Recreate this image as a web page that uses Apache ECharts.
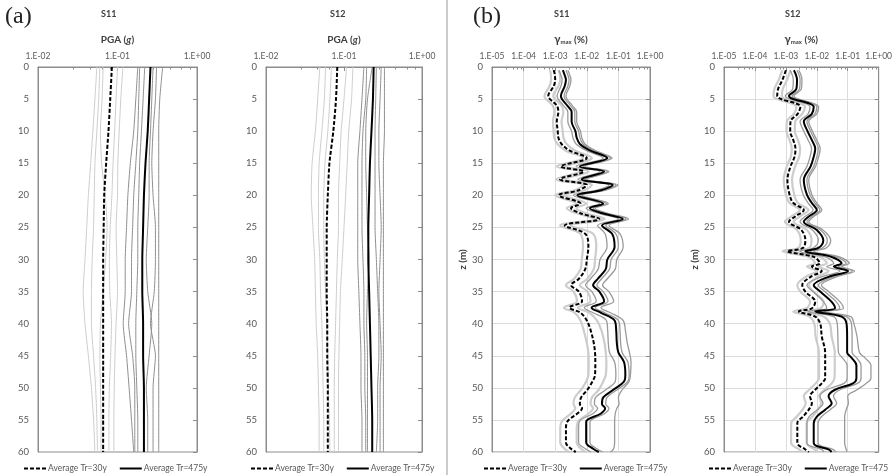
<!DOCTYPE html>
<html>
<head>
<meta charset="utf-8">
<title>PGA and gamma max profiles</title>
<script src="https://cdn.jsdelivr.net/npm/echarts@6/dist/echarts.min.js"></script>
</head>
<body style="margin:0;background:#fff">
<div id="chart" style="width:895px;height:475px"></div>
<script type="text/javascript">
// depths (m) for panel (a)
var depthA = [0, 5, 10, 15, 20, 25, 30, 35, 40, 45, 50, 55, 60];

// (a) S11 - PGA (g)
var pgaS11Avg30 = [0.085, 0.081, 0.077, 0.072, 0.068, 0.067, 0.066, 0.066, 0.066, 0.066, 0.066, 0.066, 0.066];
var pgaS11Avg475 = [0.26, 0.25, 0.24, 0.225, 0.215, 0.21, 0.205, 0.205, 0.21, 0.21, 0.215, 0.215, 0.215];
var pgaS11Rec30 = [
  [0.055, 0.052, 0.049, 0.046, 0.043, 0.041, 0.039, 0.037, 0.039, 0.043, 0.047, 0.050, 0.052],
  [0.060, 0.058, 0.055, 0.052, 0.051, 0.050, 0.048, 0.047, 0.047, 0.050, 0.053, 0.055, 0.056],
  [0.066, 0.064, 0.061, 0.063, 0.070, 0.074, 0.071, 0.066, 0.061, 0.060, 0.061, 0.062, 0.062],
  [0.100, 0.096, 0.092, 0.088, 0.085, 0.081, 0.079, 0.080, 0.084, 0.082, 0.079, 0.078, 0.078],
  [0.117, 0.110, 0.105, 0.101, 0.100, 0.096, 0.098, 0.100, 0.096, 0.093, 0.091, 0.090, 0.090]
];
var pgaS11Rec475 = [
  [0.18, 0.17, 0.16, 0.145, 0.135, 0.13, 0.125, 0.125, 0.118, 0.13, 0.14, 0.15, 0.16],
  [0.19, 0.185, 0.18, 0.17, 0.16, 0.155, 0.15, 0.15, 0.138, 0.155, 0.165, 0.165, 0.165],
  [0.22, 0.21, 0.20, 0.19, 0.185, 0.18, 0.18, 0.175, 0.17, 0.17, 0.175, 0.18, 0.18],
  [0.28, 0.27, 0.26, 0.25, 0.25, 0.24, 0.23, 0.24, 0.27, 0.25, 0.23, 0.24, 0.24],
  [0.31, 0.30, 0.28, 0.27, 0.28, 0.30, 0.30, 0.29, 0.26, 0.30, 0.28, 0.28, 0.28],
  [0.37, 0.34, 0.33, 0.33, 0.33, 0.33, 0.33, 0.33, 0.33, 0.33, 0.33, 0.33, 0.33]
];

// (a) S12 - PGA (g)
var pgaS12Avg30 = [0.082, 0.079, 0.073, 0.065, 0.062, 0.060, 0.060, 0.060, 0.061, 0.061, 0.062, 0.062, 0.062];
var pgaS12Avg475 = [0.24, 0.235, 0.225, 0.215, 0.21, 0.205, 0.205, 0.21, 0.215, 0.22, 0.225, 0.23, 0.23];
var pgaS12Rec30 = [
  [0.049, 0.046, 0.043, 0.039, 0.038, 0.040, 0.042, 0.043, 0.044, 0.046, 0.047, 0.048, 0.048],
  [0.058, 0.056, 0.052, 0.048, 0.047, 0.047, 0.049, 0.050, 0.052, 0.053, 0.054, 0.055, 0.055],
  [0.069, 0.066, 0.062, 0.057, 0.055, 0.055, 0.056, 0.058, 0.060, 0.062, 0.063, 0.065, 0.066],
  [0.108, 0.100, 0.092, 0.088, 0.085, 0.085, 0.082, 0.080, 0.078, 0.076, 0.075, 0.075, 0.075],
  [0.130, 0.125, 0.115, 0.110, 0.105, 0.100, 0.095, 0.090, 0.088, 0.086, 0.085, 0.085, 0.085]
];
var pgaS12Rec475 = [
  [0.18, 0.17, 0.16, 0.15, 0.15, 0.15, 0.15, 0.155, 0.16, 0.165, 0.165, 0.17, 0.17],
  [0.195, 0.19, 0.175, 0.17, 0.17, 0.17, 0.175, 0.18, 0.18, 0.185, 0.185, 0.19, 0.19],
  [0.23, 0.20, 0.19, 0.19, 0.195, 0.20, 0.21, 0.20, 0.195, 0.20, 0.20, 0.20, 0.20],
  [0.26, 0.255, 0.25, 0.25, 0.25, 0.25, 0.26, 0.27, 0.28, 0.28, 0.27, 0.27, 0.26],
  [0.30, 0.29, 0.28, 0.28, 0.29, 0.30, 0.29, 0.28, 0.29, 0.30, 0.29, 0.29, 0.29],
  [0.33, 0.33, 0.33, 0.32, 0.32, 0.32, 0.32, 0.32, 0.32, 0.32, 0.32, 0.32, 0.32]
];

// (b) gamma max (%) (log10 of value)
var depthB11 = [0.5, 1, 2, 3, 4.5, 6, 7, 8.5, 10, 11, 12, 13, 14.2, 15.5, 16.3, 17.5, 18.4, 19.2, 20, 21.3,
  22, 22.8, 23.7, 24.7, 26, 28, 30, 31.5, 33, 34, 35, 36.5, 37.5, 38.3, 39.5, 41, 43, 44.5, 46, 48,
  49, 50.3, 51.5, 52.5, 53.2, 54, 55.3, 56.5, 58.5, 59.5, 60];
var gmaxS11Avg30 = [-3.05, -3.02, -3.00, -3.05, -3.22, -2.95, -2.90, -2.95, -2.92, -2.90,
  -2.80, -2.55, -2.00, -2.82, -2.10, -2.85, -2.00, -2.25, -2.88, -2.20,
  -2.50, -2.20, -1.60, -2.70, -2.05, -1.95, -2.00, -2.05, -2.25, -2.50,
  -2.25, -2.15, -2.55, -2.20, -2.00, -1.88, -1.78, -1.74, -1.73, -1.74,
  -1.82, -1.98, -2.18, -2.22, -2.15, -2.30, -2.62, -2.66, -2.66, -2.50, -2.35];
var gmaxS11Avg475 = [-2.76, -2.72, -2.66, -2.70, -2.82, -2.62, -2.48, -2.48, -2.36, -2.32,
  -2.22, -1.90, -1.35, -2.22, -1.45, -2.16, -1.18, -1.55, -2.30, -1.48,
  -1.90, -1.50, -0.86, -1.52, -1.20, -1.12, -1.35, -1.40, -1.65, -1.80,
  -1.60, -1.45, -1.85, -1.55, -1.12, -1.07, -1.05, -1.00, -0.82, -0.78,
  -0.82, -1.16, -1.48, -1.52, -1.42, -1.55, -2.02, -2.02, -2.02, -1.80, -1.62];
var gmaxS11Rec30 = [
  [-3.17, -3.14, -3.13, -3.18, -3.34, -3.08, -3.03, -3.07, -3.05, -3.03,
   -2.93, -2.68, -2.12, -2.95, -2.22, -2.98, -2.12, -2.38, -3.00, -2.33,
   -2.63, -2.32, -1.74, -2.85, -2.20, -2.12, -2.16, -2.20, -2.40, -2.66,
   -2.42, -2.31, -2.72, -2.38, -2.20, -2.10, -2.00, -1.95, -1.94, -1.95,
   -2.02, -2.18, -2.38, -2.42, -2.36, -2.50, -2.80, -2.84, -2.84, -2.70, -2.55],
  [-2.90, -2.86, -2.84, -2.90, -3.06, -2.80, -2.74, -2.80, -2.76, -2.74,
   -2.64, -2.38, -1.84, -2.66, -1.94, -2.68, -1.84, -2.08, -2.72, -2.02,
   -2.33, -2.03, -1.44, -2.50, -1.80, -1.70, -1.74, -1.78, -1.98, -2.22,
   -1.98, -1.88, -2.28, -1.92, -1.68, -1.54, -1.44, -1.40, -1.38, -1.40,
   -1.48, -1.62, -1.84, -1.88, -1.80, -1.94, -2.28, -2.32, -2.32, -2.18, -2.02]
];
var gmaxS11Rec475 = [
  [-2.88, -2.84, -2.78, -2.82, -2.94, -2.74, -2.60, -2.60, -2.48, -2.44,
   -2.34, -2.02, -1.48, -2.34, -1.58, -2.28, -1.30, -1.68, -2.42, -1.60,
   -2.02, -1.62, -1.00, -1.66, -1.42, -1.36, -1.58, -1.64, -1.88, -2.04,
   -1.84, -1.70, -2.08, -1.80, -1.38, -1.34, -1.32, -1.28, -1.12, -1.08,
   -1.10, -1.40, -1.72, -1.76, -1.66, -1.80, -2.24, -2.26, -2.26, -2.04, -1.86],
  [-2.66, -2.62, -2.56, -2.60, -2.72, -2.52, -2.38, -2.38, -2.26, -2.22,
   -2.12, -1.80, -1.25, -2.12, -1.35, -2.06, -1.08, -1.45, -2.20, -1.38,
   -1.80, -1.40, -0.76, -1.40, -1.08, -1.00, -1.23, -1.28, -1.53, -1.68,
   -1.48, -1.33, -1.73, -1.43, -1.00, -0.95, -0.93, -0.88, -0.70, -0.66,
   -0.70, -1.04, -1.36, -1.40, -1.30, -1.43, -1.90, -1.90, -1.90, -1.68, -1.50],
  [-2.60, -2.56, -2.50, -2.54, -2.66, -2.46, -2.32, -2.32, -2.20, -2.16,
   -2.06, -1.74, -1.20, -2.06, -1.30, -2.00, -1.02, -1.40, -2.14, -1.32,
   -1.74, -1.34, -0.68, -1.30, -0.95, -0.85, -1.05, -1.10, -1.35, -1.50,
   -1.30, -1.15, -1.55, -1.25, -0.85, -0.78, -0.72, -0.65, -0.60, -0.62,
   -0.66, -0.88, -1.00, -0.98, -1.05, -1.10, -1.12, -1.12, -1.12, -1.15, -1.25]
];

var depthB12 = [0.5, 2, 3.4, 4.5, 6.2, 7.3, 8.5, 10, 11.4, 12.7, 14, 15.5, 17.6, 19.9, 21.2, 22.3, 23.3, 24.1,
  25.4, 27, 28.2, 28.7, 29.6, 30.6, 31.1, 31.8, 32.7, 34, 35, 36.6, 37.6, 38.1, 38.9, 40, 42, 44.5,
  45.3, 46.5, 48.5, 49.3, 50.3, 51.3, 52.4, 53.4, 54.5, 55.5, 58.6, 59.6, 60];
var gmaxS12Avg30 = [-3.00, -3.11, -3.25, -3.28, -2.53, -2.62, -2.85, -2.86, -2.76, -2.69,
  -2.72, -2.85, -2.95, -2.88, -2.76, -2.42, -2.70, -2.90, -2.50, -2.37,
  -2.45, -2.95, -2.10, -1.90, -2.16, -1.84, -2.20, -2.47, -2.37, -2.05,
  -2.16, -2.58, -2.05, -1.89, -1.84, -1.73, -1.73, -1.73, -1.73, -1.84,
  -2.05, -2.22, -2.16, -2.26, -2.45, -2.63, -2.63, -2.37, -2.26];
var gmaxS12Avg475 = [-2.74, -2.64, -2.66, -2.90, -2.10, -2.16, -2.42, -2.30, -2.16, -2.05,
  -2.10, -2.20, -2.42, -2.32, -2.16, -2.00, -2.26, -2.42, -2.00, -1.79,
  -1.95, -2.37, -1.52, -1.20, -1.45, -0.99, -1.62, -2.10, -1.89, -1.52,
  -1.41, -2.05, -1.20, -1.04, -1.02, -1.02, -0.88, -0.72, -0.72, -0.83,
  -1.41, -1.62, -1.52, -1.73, -2.00, -2.10, -2.10, -1.62, -1.52];
var gmaxS12Rec30 = [
  [-3.12, -3.23, -3.37, -3.40, -2.66, -2.74, -2.97, -2.98, -2.88, -2.81,
   -2.84, -2.97, -3.07, -3.00, -2.88, -2.55, -2.83, -3.03, -2.64, -2.52,
   -2.60, -3.10, -2.26, -2.06, -2.32, -2.00, -2.36, -2.63, -2.53, -2.22,
   -2.34, -2.76, -2.24, -2.08, -2.04, -1.93, -1.93, -1.93, -1.93, -2.04,
   -2.25, -2.42, -2.36, -2.46, -2.65, -2.83, -2.83, -2.57, -2.46],
  [-2.85, -2.96, -3.10, -3.13, -2.38, -2.47, -2.70, -2.71, -2.61, -2.54,
   -2.57, -2.70, -2.80, -2.73, -2.61, -2.27, -2.55, -2.75, -2.32, -2.17,
   -2.25, -2.78, -1.88, -1.68, -1.94, -1.62, -1.98, -2.25, -2.12, -1.78,
   -1.88, -2.35, -1.78, -1.58, -1.52, -1.42, -1.42, -1.42, -1.43, -1.52,
   -1.75, -1.92, -1.86, -1.96, -2.15, -2.33, -2.33, -2.07, -1.96]
];
var gmaxS12Rec475 = [
  [-2.86, -2.76, -2.78, -3.02, -2.22, -2.28, -2.54, -2.42, -2.28, -2.17,
   -2.22, -2.32, -2.54, -2.44, -2.28, -2.12, -2.38, -2.54, -2.14, -1.95,
   -2.12, -2.55, -1.72, -1.45, -1.68, -1.25, -1.85, -2.32, -2.12, -1.78,
   -1.68, -2.28, -1.45, -1.34, -1.32, -1.30, -1.18, -1.02, -1.02, -1.12,
   -1.68, -1.90, -1.80, -1.98, -2.25, -2.32, -2.32, -1.85, -1.76],
  [-2.64, -2.54, -2.56, -2.80, -2.00, -2.06, -2.32, -2.20, -2.06, -1.95,
   -2.00, -2.10, -2.32, -2.22, -2.06, -1.90, -2.16, -2.32, -1.88, -1.66,
   -1.82, -2.22, -1.38, -1.05, -1.30, -0.85, -1.48, -1.95, -1.74, -1.37,
   -1.26, -1.90, -1.05, -0.88, -0.86, -0.86, -0.72, -0.57, -0.57, -0.68,
   -1.25, -1.46, -1.36, -1.57, -1.85, -1.96, -1.96, -1.48, -1.38],
  [-2.58, -2.48, -2.50, -2.74, -1.94, -2.00, -2.26, -2.14, -2.00, -1.89,
   -1.94, -2.04, -2.26, -2.16, -2.00, -1.84, -2.10, -2.26, -1.80, -1.55,
   -1.70, -2.10, -1.27, -0.95, -1.20, -0.78, -1.37, -1.85, -1.62, -1.25,
   -1.14, -1.75, -0.90, -0.80, -0.70, -0.62, -0.45, -0.25, -0.25, -0.40,
   -0.70, -1.00, -0.98, -1.05, -1.10, -1.10, -1.10, -1.05, -1.02]
];

var txt = '#595959';
var frame = '#8c8c8c';
var fontName = 'Lato';

// grids: two PGA panels, two gamma max panels
var grids = [
  {left: 38, top: 67, width: 159, height: 385},
  {left: 266, top: 67, width: 156, height: 385},
  {left: 492, top: 67, width: 158, height: 385},
  {left: 724, top: 67, width: 157, height: 385}
];

function expLabel(v) {
  var e = Math.round(Math.log10(v));
  var a = Math.abs(e);
  return '1.E' + (e < 0 ? '-' : '+') + (a < 10 ? '0' : '') + a;
}

var xAxes = [], yAxes = [];
grids.forEach(function (g, i) {
  g.show = true;
  g.borderColor = frame;
  g.borderWidth = 1;
  var isB = i >= 2;
  xAxes.push({
    type: 'log', logBase: 10, gridIndex: i, position: 'top',
    min: isB ? 1e-5 : 0.01, max: 1,
    name: isB ? '{g|γ}{s|max}{n| (%)}' : '{n|PGA (}{i|g}{n|)}',
    nameLocation: 'middle', nameGap: 22,
    nameTextStyle: {
      rich: {
        n: {fontFamily: fontName, fontWeight: 'bold', fontSize: 10, color: '#404040'},
        i: {fontFamily: fontName, fontWeight: 'bold', fontStyle: 'italic', fontSize: 10, color: '#404040'},
        g: {fontFamily: fontName, fontWeight: 'bold', fontSize: 11, color: '#404040'},
        s: {fontFamily: fontName, fontWeight: 'bold', fontSize: 6, color: '#404040', verticalAlign: 'bottom', padding: [5, 0, 0, 0]}
      }
    },
    axisLine: {show: true, lineStyle: {color: frame}},
    axisTick: {show: true, inside: true, length: 4, lineStyle: {color: frame}},
    minorTick: {show: true, splitNumber: 5, length: 2.5, lineStyle: {color: frame}},
    axisLabel: {formatter: expLabel, fontFamily: fontName, fontSize: 8.5, color: txt, margin: 6},
    splitLine: {show: isB, lineStyle: {color: '#dcdcdc'}}
  });
  yAxes.push({
    type: 'value', gridIndex: i, inverse: true, min: 0, max: 60, interval: 5,
    name: isB ? 'z (m)' : '', nameLocation: 'middle', nameRotate: 90, nameGap: 23,
    nameTextStyle: {fontFamily: fontName, fontWeight: 'bold', fontSize: 10, color: '#404040'},
    axisLine: {show: true, lineStyle: {color: frame}},
    axisTick: {show: false},
    axisLabel: {fontFamily: fontName, fontSize: 9.5, color: txt, margin: 9},
    splitLine: {show: isB, lineStyle: {color: '#dcdcdc'}}
  });
  yAxes.push({
    type: 'value', gridIndex: i, position: 'right', inverse: true, min: 0, max: 60, interval: 5,
    axisLine: {show: true, lineStyle: {color: frame}},
    axisTick: {show: true, inside: true, length: 4, lineStyle: {color: frame}},
    axisLabel: {show: false},
    splitLine: {show: false}
  });
});

var series = [];
function addLine(gi, depths, vals, isExp, name, color, width, dashed, smooth, z) {
  series.push({
    type: 'line', name: name, xAxisIndex: gi, yAxisIndex: gi * 2,
    data: depths.map(function (d, k) { return [isExp ? Math.pow(10, vals[k]) : vals[k], d]; }),
    symbol: 'none', showSymbol: false, smooth: smooth, silent: true, z: z,
    lineStyle: {color: color, width: width, type: dashed ? [4, 2] : 'solid'},
    itemStyle: {color: color}
  });
}

function addPanel(gi, depths, rec30, rec475, avg30, avg475, isExp, name475, smooth) {
  rec30.forEach(function (r) {
    addLine(gi, depths, r, isExp, 'rec30', '#cdcdcd', isExp ? 2.2 : 1, false, smooth, 2);
  });
  rec475.forEach(function (r) {
    addLine(gi, depths, r, isExp, 'rec475', isExp ? '#9a9a9a' : '#8f8f8f', isExp ? 1.3 : 1, false, smooth, 3);
  });
  addLine(gi, depths, avg30, isExp, 'Average Tr=30y', '#000', 2, true, smooth, 5);
  addLine(gi, depths, avg475, isExp, name475, '#000', 2, false, smooth, 5);
}

addPanel(0, depthA, pgaS11Rec30, pgaS11Rec475, pgaS11Avg30, pgaS11Avg475, false, 'Average Tr=475y', 0.2);
addPanel(1, depthA, pgaS12Rec30, pgaS12Rec475, pgaS12Avg30, pgaS12Avg475, false, 'Average Tr=475y', 0.2);
addPanel(2, depthB11, gmaxS11Rec30, gmaxS11Rec475, gmaxS11Avg30, gmaxS11Avg475, true, 'Average Tr=475y', 0.35);
addPanel(3, depthB12, gmaxS12Rec30, gmaxS12Rec475, gmaxS12Avg30, gmaxS12Avg475, true, 'Average Tr=475', 0.35);

function legendAt(left, names) {
  return {
    left: left, top: 459, data: names, itemWidth: 22, itemHeight: 10, itemGap: 12,
    selectedMode: false,
    itemStyle: {opacity: 0},
    lineStyle: {width: 2},
    textStyle: {fontFamily: fontName, fontSize: 8.5, color: txt, padding: [0, 0, 0, -3]}
  };
}

function title(x, s) {
  return {type: 'text', left: x, top: 10, style: {text: s, font: 'bold 9px ' + fontName, fill: '#404040'}};
}

var myChart = echarts.init(document.getElementById('chart'));
myChart.setOption({
  animation: false,
  grid: grids,
  xAxis: xAxes,
  yAxis: yAxes,
  series: series,
  legend: [
    legendAt(18, ['Average Tr=30y', 'Average Tr=475y']),
    legendAt(245, ['Average Tr=30y', 'Average Tr=475y']),
    legendAt(478, ['Average Tr=30y', 'Average Tr=475y']),
    legendAt(703, ['Average Tr=30y', 'Average Tr=475'])
  ],
  graphic: [
    {type: 'text', left: 5, top: 5, style: {text: '(a)', font: '24px "Liberation Serif"', fill: '#222'}},
    {type: 'text', left: 473, top: 5, style: {text: '(b)', font: '24px "Liberation Serif"', fill: '#222'}},
    title(101, 'S11'), title(330, 'S12'), title(554, 'S11'), title(785, 'S12'),
    {type: 'line', shape: {x1: 447, y1: 0, x2: 447, y2: 475}, style: {stroke: '#999', lineWidth: 1}}
  ]
});
</script>
</body>
</html>
